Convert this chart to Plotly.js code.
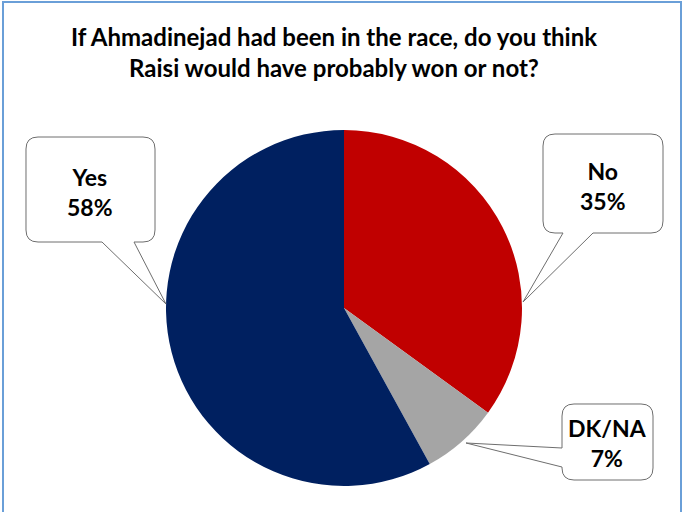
<!DOCTYPE html>
<html>
<head>
<meta charset="utf-8">
<script src="https://cdn.plot.ly/plotly-3.0.1.min.js"></script>
<style>html,body{margin:0;padding:0;background:#fff;}#chart{width:684px;height:512px;}</style>
</head>
<body>
<div id="chart"></div>
<script>
const categories = ["No", "DK/NA", "Yes"];
const values = [35, 7, 58];
const colors = ["#C00000", "#A5A5A5", "#002060"];
const titleText = "If Ahmadinejad had been in the race, do you think<br>Raisi would have probably won or not?";

const W = 684, H = 512;
const px = x => x / W;
const py = y => 1 - y / H;

function callout(x0, y0, x1, y1, r, side, a, b, tx, ty) {
  let p = [];
  const P = (x, y) => px(x).toFixed(5) + "," + py(y).toFixed(5);
  p.push("M" + P(x0 + r, y0));
  p.push("L" + P(x1 - r, y0));
  p.push("Q" + P(x1, y0) + " " + P(x1, y0 + r));
  p.push("L" + P(x1, y1 - r));
  p.push("Q" + P(x1, y1) + " " + P(x1 - r, y1));
  if (side === "bottom") {
    p.push("L" + P(b, y1));
    p.push("L" + P(tx, ty));
    p.push("L" + P(a, y1));
  }
  p.push("L" + P(x0 + r, y1));
  p.push("Q" + P(x0, y1) + " " + P(x0, y1 - r));
  if (side === "left") {
    p.push("L" + P(x0, b));
    p.push("L" + P(tx, ty));
    p.push("L" + P(x0, a));
  }
  p.push("L" + P(x0, y0 + r));
  p.push("Q" + P(x0, y0) + " " + P(x0 + r, y0));
  p.push("Z");
  return {
    type: "path", xref: "paper", yref: "paper", path: p.join(" "),
    fillcolor: "#ffffff", line: {color: "#6e6e6e", width: 1}, layer: "above"
  };
}

const boxes = [
  {i: 2, x0: 26, y0: 137, x1: 155, y1: 242, side: "bottom", a: 102, b: 134, tx: 166, ty: 304, cx: 90, cy: 192},
  {i: 0, x0: 543, y0: 134, x1: 663, y1: 233, side: "bottom", a: 563, b: 593, tx: 523, ty: 302, cx: 603, cy: 186},
  {i: 1, x0: 562, y0: 404, x1: 653, y1: 480, side: "left", a: 448, b: 467, tx: 466, ty: 443, cx: 607, cy: 443}
];

const shapes = [{
  type: "rect", xref: "paper", yref: "paper",
  x0: px(3), x1: px(681), y0: py(2), y1: py(530),
  line: {color: "#6A9FD8", width: 2}, fillcolor: "rgba(0,0,0,0)"
}];
const annotations = [];
boxes.forEach(bx => {
  shapes.push(callout(bx.x0, bx.y0, bx.x1, bx.y1, 12, bx.side, bx.a, bx.b, bx.tx, bx.ty));
  annotations.push({
    xref: "paper", yref: "paper", x: px(bx.cx), y: py(bx.cy),
    text: "<b>" + categories[bx.i] + "<br>" + values[bx.i] + "%</b>",
    showarrow: false, xanchor: "center", yanchor: "middle",
    font: {family: "Lato, 'Open Sans', sans-serif", size: 23, color: "#000"},
    align: "center"
  });
});

const data = [{
  type: "pie", labels: categories, values: values, sort: false,
  direction: "clockwise", rotation: 0,
  marker: {colors: colors, line: {width: 0}},
  textinfo: "none", hoverinfo: "label+percent",
  domain: {x: [166 / W, 522 / W], y: [py(486), py(130)]}
}];

const layout = {
  width: W, height: H,
  margin: {l: 0, r: 0, t: 0, b: 0},
  paper_bgcolor: "#ffffff",
  showlegend: false,
  title: {
    text: "<b>" + titleText + "</b>",
    x: 334 / W, xanchor: "center", y: 1 - 46 / H, yanchor: "top", yref: "container",
    font: {family: "Lato, 'Open Sans', sans-serif", size: 24, color: "#000"}
  },
  shapes: shapes,
  annotations: annotations
};

Plotly.newPlot("chart", data, layout, {displayModeBar: false, staticPlot: true});
</script>
</body>
</html>
